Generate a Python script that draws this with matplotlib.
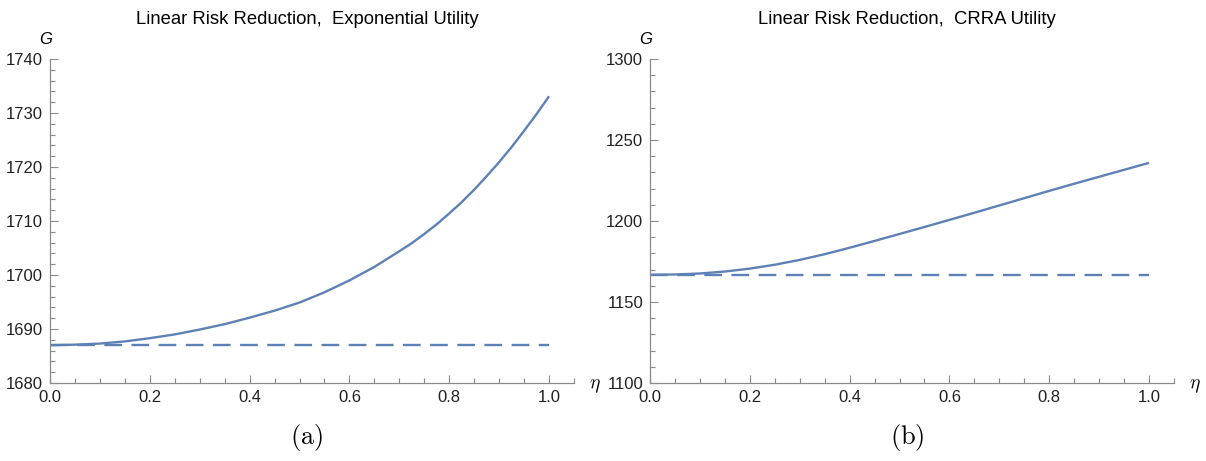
import matplotlib
matplotlib.use("Agg")
import matplotlib.pyplot as plt
from matplotlib.ticker import MultipleLocator, FormatStrFormatter

plt.rcParams['font.family'] = ['Liberation Sans', 'DejaVu Sans']
plt.rcParams['mathtext.fontset'] = 'cm'

# (a) exponential utility
eta_a = [0.0, 0.05, 0.1, 0.15, 0.2, 0.25, 0.3, 0.35, 0.4, 0.45, 0.5,
         0.55, 0.6, 0.65, 0.7, 0.725, 0.75, 0.775, 0.8, 0.825, 0.85,
         0.875, 0.9, 0.925, 0.95, 0.975, 1.0]
g_exp = [1687.0, 1687.1, 1687.3, 1687.7, 1688.3, 1689.0, 1689.9, 1690.9,
         1692.1, 1693.4, 1694.9, 1696.8, 1699.0, 1701.5, 1704.4, 1705.9,
         1707.6, 1709.4, 1711.4, 1713.5, 1715.8, 1718.3, 1720.9, 1723.7,
         1726.7, 1729.8, 1733.1]
base_exp = 1687.0

# (b) CRRA utility
eta_b = [0.0, 0.05, 0.1, 0.15, 0.2, 0.25, 0.3, 0.35, 0.4, 0.45, 0.5,
         0.55, 0.6, 0.65, 0.7, 0.75, 0.8, 0.85, 0.9, 0.95, 1.0]
g_crra = [1166.8, 1167.0, 1167.6, 1168.8, 1170.6, 1173.0, 1176.0, 1179.5,
          1183.5, 1187.7, 1192.0, 1196.3, 1200.7, 1205.1, 1209.6, 1214.1,
          1218.6, 1223.0, 1227.3, 1231.6, 1235.9]
base_crra = 1166.8

titles = ['Linear Risk Reduction,  Exponential Utility',
          'Linear Risk Reduction,  CRRA Utility']
letters = ['(a)', '(b)']
ylims = [(1680, 1740), (1100, 1300)]
ysteps = [(10, 2), (50, 10)]

col = '#5E81B5'
axcol = '#8a8a8a'

W, H = 1206, 461
fig = plt.figure(figsize=(W / 100, H / 100), dpi=100)

xs = [eta_a, eta_b]
data = [g_exp, g_crra]
bases = [base_exp, base_crra]
lefts = [50, 650]
for i, x0 in enumerate(lefts):
    ax = fig.add_axes([x0 / W, 1 - 383 / H, 524 / W, 324 / H])
    ax.plot(xs[i], data[i], color=col, lw=1.7, solid_capstyle='butt')
    ax.plot([xs[i][0], xs[i][-1]], [bases[i], bases[i]], color=col, lw=1.7,
            dashes=(7.5, 4))
    ax.set_xlim(0, 1.05)
    ax.set_ylim(*ylims[i])
    ax.xaxis.set_major_locator(MultipleLocator(0.2))
    ax.xaxis.set_minor_locator(MultipleLocator(0.05))
    ax.yaxis.set_major_locator(MultipleLocator(ysteps[i][0]))
    ax.yaxis.set_minor_locator(MultipleLocator(ysteps[i][1]))
    ax.xaxis.set_major_formatter(FormatStrFormatter('%.1f'))
    for s in ['top', 'right']:
        ax.spines[s].set_visible(False)
    for s in ['left', 'bottom']:
        ax.spines[s].set_color(axcol)
        ax.spines[s].set_linewidth(0.9)
    ax.tick_params(which='both', direction='in', color=axcol, width=0.8,
                   labelsize=12, labelcolor='#222222')
    ax.tick_params(which='major', length=6)
    ax.tick_params(which='minor', length=3.5)
    ax.tick_params(axis='x', which='major', pad=5)
    ax.tick_params(axis='y', which='major', pad=5)

    # title, axis labels, panel letter in figure pixels
    cx = x0 + 257
    fig.text(cx / W, 1 - 19 / H, titles[i], fontsize=13.3, ha='center',
             va='center')
    fig.text((x0 - 4) / W, 1 - 40 / H, 'G', fontsize=12, style='italic',
             ha='center', va='center')
    fig.text((x0 + 539) / W, 1 - 386 / H, r'$\eta$', fontsize=14,
             ha='left', va='center')
    fig.text((x0 + 257) / W, 1 - 437 / H, r'$\mathrm{' + letters[i] + '}$',
             fontsize=19, ha='center', va='center')

fig.savefig('out.png', dpi=100)
